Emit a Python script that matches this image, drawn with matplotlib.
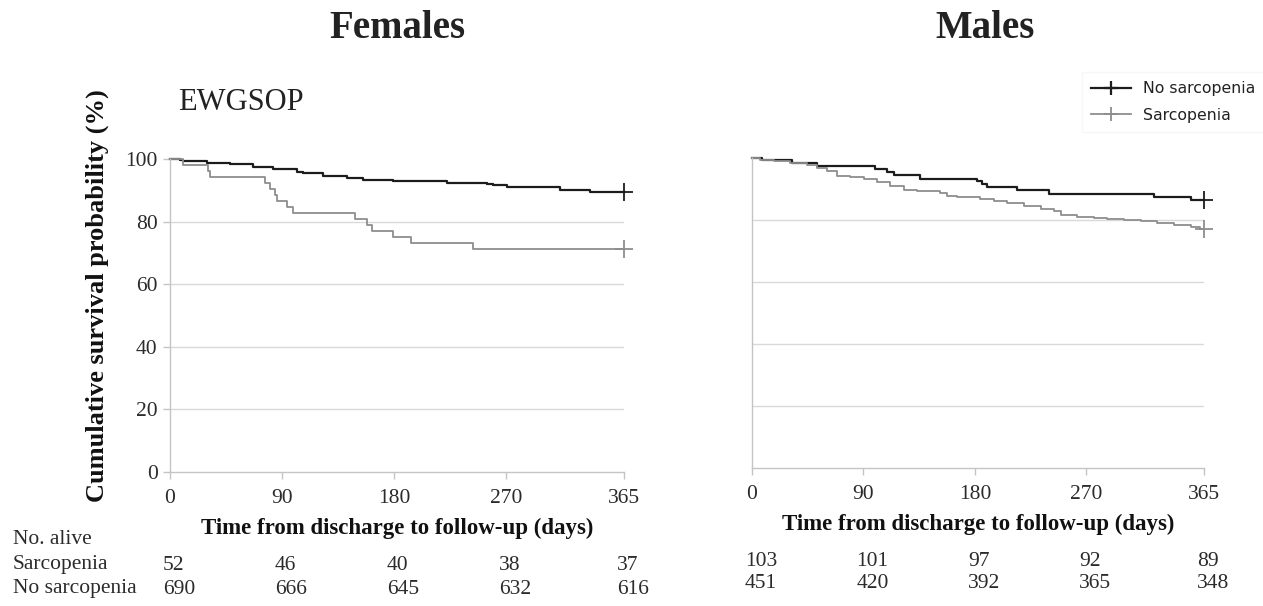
import matplotlib.pyplot as plt
from matplotlib.lines import Line2D

plt.rcParams["font.family"] = ["Liberation Serif", "DejaVu Serif"]

# Kaplan-Meier step curves: event days and survival (%) after each event
fem_no_t = [0, 8, 10.7, 29.5, 48.2, 67, 83, 101.8, 107.2, 123.3, 142, 155.4, 179.5,
            201, 222.4, 243.9, 254.6, 260, 270.7, 294.8, 313.6, 337.7, 355]
fem_no_s = [100, 99.7, 99.4, 98.8, 98.4, 97.6, 96.7, 96.0, 95.4, 94.6, 93.8, 93.3, 93.1,
            92.9, 92.4, 92.2, 92.0, 91.6, 91.2, 90.9, 90.1, 89.6, 89.3]
fem_sar_t = [0, 10.7, 30.8, 32.2, 76.4, 80.4, 84.4, 86.3, 93.8, 99.1, 148.8, 158.1,
             162.7, 179.6, 193.5, 243.9]
fem_sar_s = [100, 98.08, 96.15, 94.23, 92.31, 90.38, 88.46, 86.54, 84.62, 82.69, 80.77,
             78.85, 76.92, 75.0, 73.08, 71.15]

male_no_t = [0, 8.1, 32.3, 52.5, 99.7, 109.1, 115, 136, 181.8, 185.9, 189.4, 213.6,
             239.7, 324.6, 354.8]
male_no_s = [100, 99.2, 98.4, 97.5, 96.5, 95.5, 94.4, 93.3, 92.5, 91.6, 90.5, 89.6,
             88.5, 87.4, 86.6]
male_sar_t = [0, 6.7, 17.5, 31, 44.4, 52.5, 60.6, 68.7, 79.5, 90.2, 101, 111.8, 122.6,
              133.3, 152.2, 157.6, 165.7, 184.5, 195.3, 206, 219.5, 233, 243.8, 249.2,
              262.7, 276, 287, 300.3, 313.8, 327.3, 340.7, 354.2, 362]
male_sar_s = [100, 99.5, 98.9, 98.4, 97.7, 96.8, 95.7, 94.3, 93.9, 93.2, 92.2, 90.9,
              89.6, 89.2, 88.7, 87.8, 87.3, 86.8, 86.2, 85.5, 84.6, 83.5, 82.8, 81.7,
              81.0, 80.5, 80.3, 80.1, 79.6, 79.0, 78.5, 77.7, 77.1]

tick_days = [0, 90, 180, 270, 365]
fem_alive_sar = [52, 46, 40, 38, 37]
fem_alive_no = [690, 666, 645, 632, 616]
male_alive_sar = [103, 101, 97, 92, 89]
male_alive_no = [451, 420, 392, 365, 348]

BLACK = "#1c1c1c"
GRAY = "#8e8e8e"
GRID = "#d9d9d9"
SPINE = "#c4c4c4"
TXT = "#2b2b2b"

W, H = 1263, 606
fig = plt.figure(figsize=(W / 100, H / 100), dpi=100)


def px_box(left, top, right, bottom):
    return [left / W, 1 - bottom / H, (right - left) / W, (bottom - top) / H]


def km(ax, t, s, color, lw):
    ax.step(t + [365], s + [s[-1]], where="post", color=color, lw=lw, clip_on=False)
    ax.plot([365], [s[-1]], marker="+", ms=13, mew=1.3, color=color, clip_on=False)


def style(ax, show_y):
    ax.set_xlim(0, 365)
    ax.set_ylim(0, 100)
    for side in ["top", "right"]:
        ax.spines[side].set_visible(False)
    for side in ["left", "bottom"]:
        ax.spines[side].set_color(SPINE)
        ax.spines[side].set_linewidth(1)
    ax.set_xticks(tick_days)
    ax.set_yticks([0, 20, 40, 60, 80, 100])
    for y in [20, 40, 60, 80]:
        ax.axhline(y, color=GRID, lw=1, zorder=0)
    ax.tick_params(axis="x", length=5, width=1, color=SPINE, pad=7,
                   labelsize=15.5, labelcolor=TXT)
    if show_y:
        ax.tick_params(axis="y", length=5, width=1, color=SPINE, pad=4,
                       labelsize=15.5, labelcolor=TXT)
    else:
        ax.tick_params(axis="y", length=0, labelleft=False)


axL = fig.add_axes(px_box(170, 159, 624, 472))
axR = fig.add_axes(px_box(752, 158, 1204, 468))

style(axL, True)
style(axR, False)

km(axL, fem_no_t, fem_no_s, BLACK, 1.6)
km(axL, fem_sar_t, fem_sar_s, GRAY, 1.3)
km(axR, male_no_t, male_no_s, BLACK, 1.6)
km(axR, male_sar_t, male_sar_s, GRAY, 1.3)

xlab = "Time from discharge to follow-up (days)"
axL.set_xlabel(xlab, fontsize=16.5, fontweight="bold", color="#111", va="center")
axL.xaxis.set_label_coords(0.5, -56 / 313)
axR.set_xlabel(xlab, fontsize=16.5, fontweight="bold", color="#111", va="center")
axR.xaxis.set_label_coords(0.5, -56 / 310)

axL.set_ylabel("Cumulative survival probability (%)", fontsize=19,
               fontweight="bold", color="#111", va="center")
axL.yaxis.set_label_coords((97 - 170) / 454, (472 - 296) / 313)

fig.text(397 / W, 1 - 29 / H, "Females", fontsize=28, fontweight="bold",
         color="#222", ha="center", va="center")
fig.text(985 / W, 1 - 29 / H, "Males", fontsize=28, fontweight="bold",
         color="#222", ha="center", va="center")
fig.text(178 / W, 1 - 103 / H, "EWGSOP", fontsize=22, color="#222",
         ha="left", va="center")

# numbers alive under each panel
fig.text(13 / W, 1 - 540 / H, "No. alive", fontsize=15.5, color=TXT, va="center")
fig.text(13 / W, 1 - 565 / H, "Sarcopenia", fontsize=15.5, color=TXT, va="center")
fig.text(13 / W, 1 - 589 / H, "No sarcopenia", fontsize=15.5, color=TXT, va="center")
for d, a, b in zip(tick_days, fem_alive_sar, fem_alive_no):
    x = (170 + d * 454 / 365 - 7) / W
    fig.text(x, 1 - 565 / H, str(a), fontsize=15.5, color=TXT, va="center")
    fig.text(x, 1 - 589 / H, str(b), fontsize=15.5, color=TXT, va="center")
for d, a, b in zip(tick_days, male_alive_sar, male_alive_no):
    x = (752 + d * 452 / 365 - 7) / W
    fig.text(x, 1 - 561 / H, str(a), fontsize=15.5, color=TXT, va="center")
    fig.text(x, 1 - 584 / H, str(b), fontsize=15.5, color=TXT, va="center")

handles = [Line2D([], [], color=BLACK, lw=1.6, marker="+", ms=10, mew=1.6),
           Line2D([], [], color=GRAY, lw=1.3, marker="+", ms=10, mew=1.3)]
leg = fig.legend(handles, ["No sarcopenia", "Sarcopenia"], loc="center left",
                 bbox_to_anchor=(1074 / W, 1 - 102 / H), frameon=True,
                 prop={"family": "DejaVu Sans", "size": 11.3}, handlelength=2.5,
                 handletextpad=0.8, labelspacing=0.75, fancybox=False,
                 borderpad=0.6)
leg.get_frame().set_edgecolor("#f6f6f6")
leg.get_frame().set_linewidth(1)
for t in leg.get_texts():
    t.set_color("#222")

fig.savefig("out.png", dpi=100)
